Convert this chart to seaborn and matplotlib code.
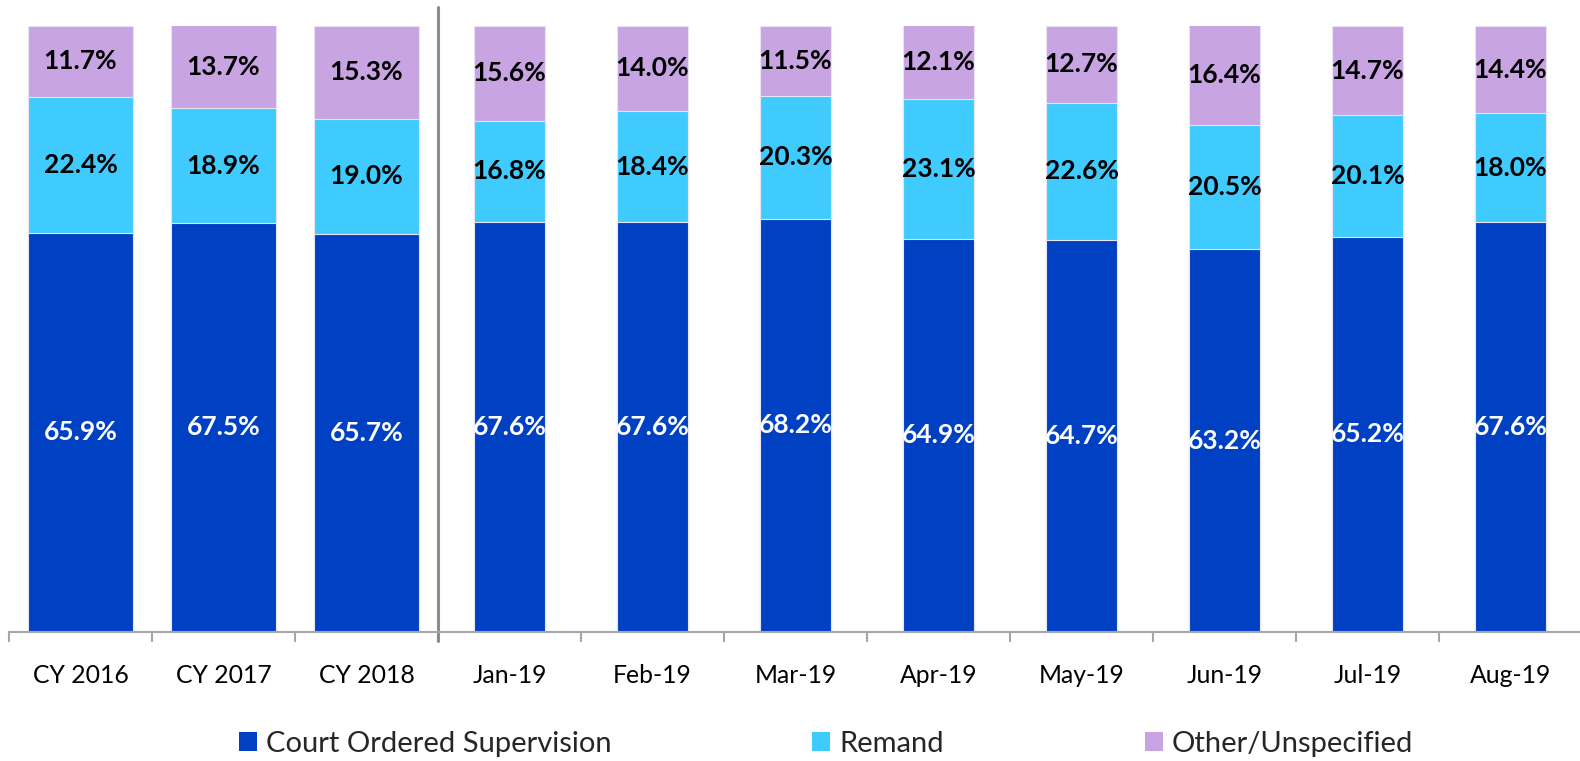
import matplotlib
matplotlib.use("Agg")
import matplotlib.pyplot as plt
import seaborn as sns
import pandas as pd
import numpy as np
from matplotlib.patches import Patch

categories = ["CY 2016", "CY 2017", "CY 2018", "Jan-19", "Feb-19", "Mar-19",
              "Apr-19", "May-19", "Jun-19", "Jul-19", "Aug-19"]
court = [65.9, 67.5, 65.7, 67.6, 67.6, 68.2, 64.9, 64.7, 63.2, 65.2, 67.6]
remand = [22.4, 18.9, 19.0, 16.8, 18.4, 20.3, 23.1, 22.6, 20.5, 20.1, 18.0]
other = [11.7, 13.7, 15.3, 15.6, 14.0, 11.5, 12.1, 12.7, 16.4, 14.7, 14.4]
series_names = ["Court Ordered Supervision", "Remand", "Other/Unspecified"]
colors = ["#0041C3", "#40CBFF", "#C8A5E2"]

sns.set_theme(style="white")
plt.rcParams['font.family'] = ['Lato', 'DejaVu Sans']

df = pd.DataFrame({"cat": categories, "court": court, "remand": remand, "other": other})
df["c1"] = df["court"]
df["c2"] = df["court"] + df["remand"]
df["c3"] = df["c2"] + df["other"]

fig = plt.figure(figsize=(15.8, 7.61), dpi=100)
ax = fig.add_axes([9/1580, 129/761, 1573/1580, 606/761])

groups = [(df.iloc[:3], 0.73), (df.iloc[3:], 0.50)]
for col, colr in [("c3", colors[2]), ("c2", colors[1]), ("c1", colors[0])]:
    for sub, w in groups:
        sns.barplot(data=sub, x="cat", y=col, order=categories, color=colr,
                    width=w, saturation=1, edgecolor="#E8E4F4", linewidth=0.8,
                    ax=ax, errorbar=None)

# data labels
for i in range(len(categories)):
    segs = [(0, court[i], court[i], "white"),
            (court[i], remand[i], remand[i], "black"),
            (court[i] + remand[i], other[i], other[i], "black")]
    for base, h, v, tc in segs:
        ax.text(i, base + h / 2, f"{v:.1f}%", ha="center", va="center",
                fontsize=19, fontweight="bold", color=tc)

ax.set_xlim(-0.5, len(categories) - 0.5)
ax.set_ylim(0, 100)
ax.set_xlabel("")
ax.set_ylabel("")
ax.set_yticks([])
for s in ["left", "right", "top"]:
    ax.spines[s].set_visible(False)
ax.spines["bottom"].set_color("#A6A6A6")
ax.spines["bottom"].set_linewidth(1.5)

ax.set_xticks(range(len(categories)))
ax.set_xticklabels(categories, fontsize=17.8)
ax.tick_params(axis="x", which="major", length=0, pad=23, colors="black")
ax.set_xticks(np.arange(-0.5, len(categories), 1.0), minor=True)
ax.tick_params(axis="x", which="minor", length=7, width=1.5, color="#A6A6A6", bottom=True)

ax.axvline(2.5, ymin=-0.015, ymax=1.031, color="#8C8C8C", linewidth=2.2, clip_on=False)

handles = [Patch(facecolor=c, edgecolor="none") for c in colors]
leg = fig.legend(handles, series_names, loc="center", bbox_to_anchor=(826/1580, 1 - 744/761),
                 ncol=3, frameon=False, fontsize=21, handlelength=0.62, handleheight=0.62,
                 handletextpad=0.3, columnspacing=6.9)

fig.savefig("out.png", dpi=100)
